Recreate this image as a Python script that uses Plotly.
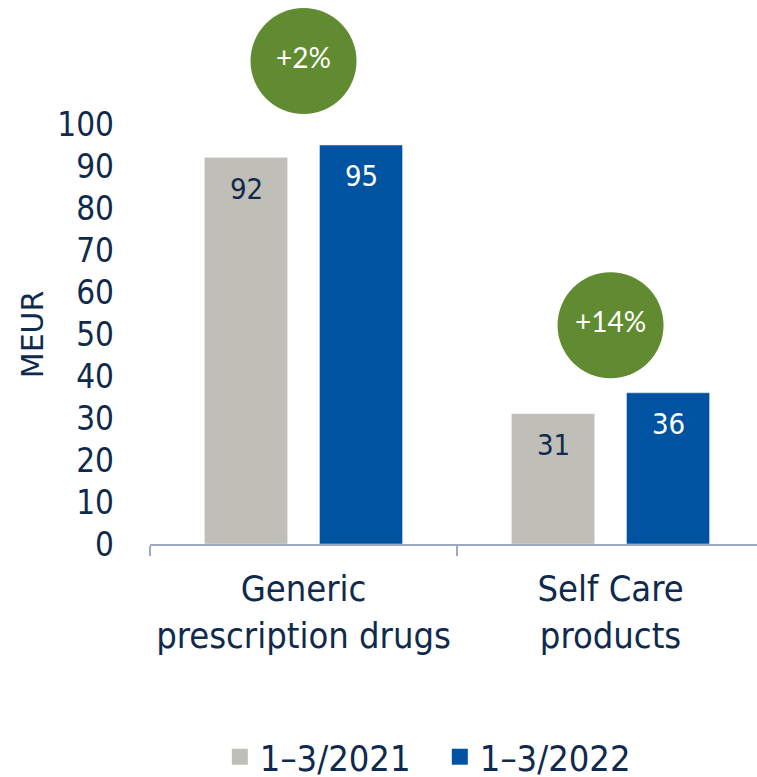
import plotly.graph_objects as go

# data
categories = ["Generic<br>prescription drugs", "Self Care<br>products"]
series_names = ["1–3/2021", "1–3/2022"]
values_2021 = [92, 31]
values_2022 = [95, 36]
growth_labels = ["+2%", "+14%"]
growth_y = [115, 52.1]  # vertical placement of the growth bubbles
y_ticks = [0, 10, 20, 30, 40, 50, 60, 70, 80, 90, 100]

NAVY = "#0f2a4d"
GRAY = "#bfbfb7"
BLUE = "#0053a0"
GREEN = "#608b30"
AXIS = "#9ea8c4"
FONT = "DejaVu Sans Condensed, Open Sans, sans-serif"

fig = go.Figure()

fig.add_trace(go.Bar(
    name=series_names[0], x=categories, y=values_2021,
    marker_color=GRAY, showlegend=False, hoverinfo="skip",
))
fig.add_trace(go.Bar(
    name=series_names[1], x=categories, y=values_2022,
    marker_color=BLUE, showlegend=False, hoverinfo="skip",
))

# growth bubbles
fig.add_trace(go.Scatter(
    x=categories, y=growth_y, mode="markers+text",
    marker=dict(size=106, color=GREEN, line=dict(width=0)),
    text=growth_labels, textposition="middle center",
    textfont=dict(family="Lato, Open Sans, sans-serif", size=28, color="white"),
    showlegend=False, cliponaxis=False, hoverinfo="skip",
))

# legend entries (bigger squares than bar legend symbols)
for name, col in zip(series_names, [GRAY, BLUE]):
    fig.add_trace(go.Scatter(
        x=[None], y=[None], mode="markers", name=name,
        marker=dict(symbol="square", size=16, color=col),
    ))

# value labels inside the bars
annotations = []
for cat, v1, v2 in zip(categories, values_2021, values_2022):
    annotations.append(dict(x=cat, y=v1, text=str(v1), showarrow=False,
                            xshift=-57.5, yshift=-31, yanchor="middle",
                            font=dict(family=FONT, size=29, color=NAVY)))
    annotations.append(dict(x=cat, y=v2, text=str(v2), showarrow=False,
                            xshift=57.5, yshift=-31, yanchor="middle",
                            font=dict(family=FONT, size=29, color="white")))

# axis title, centred on the 0-100 tick span
annotations.append(dict(
    xref="paper", yref="y", x=-0.194, y=50, text="MEUR", textangle=-90,
    showarrow=False, xanchor="center", yanchor="middle",
    font=dict(family="DejaVu Sans, sans-serif", size=30, color=NAVY),
))

fig.update_layout(
    barmode="group",
    bargap=0.251,
    bargroupgap=0.278,
    width=757, height=777,
    margin=dict(l=150, r=0, t=0, b=233),
    plot_bgcolor="white",
    paper_bgcolor="white",
    font=dict(family=FONT, color=NAVY, size=34),
    xaxis=dict(
        range=[-0.5, 1.477],
        showline=True, linecolor=AXIS, linewidth=1.5,
        ticks="outside", tickson="boundaries", ticklen=10, tickcolor=AXIS, tickwidth=1.5,
        tickfont=dict(size=36, color=NAVY),
        ticklabelstandoff=12,
        showgrid=False, zeroline=False, fixedrange=True,
    ),
    yaxis=dict(
        range=[0, 129.524],
        tickvals=y_ticks,
        tickfont=dict(size=33, color=NAVY),
        ticklabelstandoff=35,
        showgrid=False, zeroline=False, showline=False,
        fixedrange=True,
    ),
    legend=dict(
        orientation="h",
        xref="container", yref="container",
        x=0.581, y=0.026, xanchor="center", yanchor="middle",
        font=dict(size=36, color=NAVY),
        itemsizing="trace",
        entrywidth=175,
    ),
    annotations=annotations,
)

fig.write_html("out.html", config={"displayModeBar": False},
               post_script="document.body.style.margin='0px';")
